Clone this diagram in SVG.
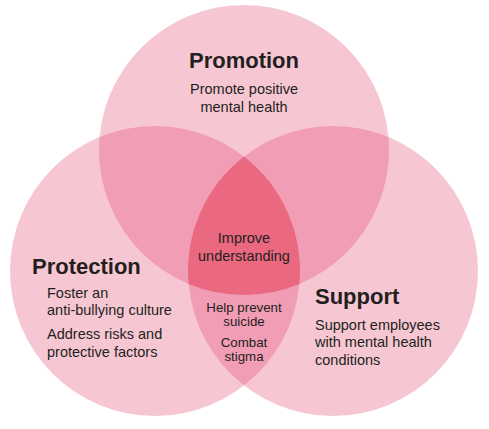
<svg xmlns="http://www.w3.org/2000/svg" width="489" height="429" viewBox="0 0 489 429">
<style>
.c1{fill:#F6C7D3}
.c2{fill:#F19DB6}
.c3{fill:#EA6880}
text{font-family:"Liberation Sans",Arial,sans-serif;fill:#231F20}
.h{font-size:22px;font-weight:bold}
.b{font-size:14.5px}
.s{font-size:13.3px}
.m{text-anchor:middle}
</style>
<defs>
<clipPath id="clipT"><circle cx="244" cy="150" r="145"/></clipPath>
<clipPath id="clipL"><circle cx="155" cy="271" r="145"/></clipPath>
</defs>
<g id="circles">
<circle id="promotion-circle" class="c1" cx="244" cy="150" r="145"/>
<circle id="protection-circle" class="c1" cx="155" cy="271" r="145"/>
<circle id="support-circle" class="c1" cx="333" cy="271" r="145"/>
<circle class="c2" cx="155" cy="271" r="145" clip-path="url(#clipT)"/>
<circle class="c2" cx="333" cy="271" r="145" clip-path="url(#clipT)"/>
<circle class="c2" cx="333" cy="271" r="145" clip-path="url(#clipL)"/>
<path class="c3" d="M244,156.5 A145,145 0 0 1 299.4,284 A145,145 0 0 1 188.6,284 A145,145 0 0 1 244,156.5 Z"/>
</g>
<g id="promotion">
<text class="h m" x="244" y="68">Promotion</text>
<text class="b m" x="244" y="94">Promote positive</text>
<text class="b m" x="244" y="112">mental health</text>
</g>
<g id="protection">
<text class="h" x="32" y="274">Protection</text>
<text class="b" x="47" y="298">Foster an</text>
<text class="b" x="47" y="315">anti-bullying culture</text>
<text class="b" x="47" y="339">Address risks and</text>
<text class="b" x="47" y="357">protective factors</text>
</g>
<g id="support">
<text class="h" x="315" y="304">Support</text>
<text class="b" x="315" y="330">Support employees</text>
<text class="b" x="315" y="347">with mental health</text>
<text class="b" x="315" y="365">conditions</text>
</g>
<g id="center">
<text class="b m" x="244" y="243">Improve</text>
<text class="b m" x="244" y="261">understanding</text>
</g>
<g id="lower-lens">
<text class="s m" x="244" y="312">Help prevent</text>
<text class="s m" x="244" y="326">suicide</text>
<text class="s m" x="244" y="347">Combat</text>
<text class="s m" x="244" y="361">stigma</text>
</g>
</svg>
